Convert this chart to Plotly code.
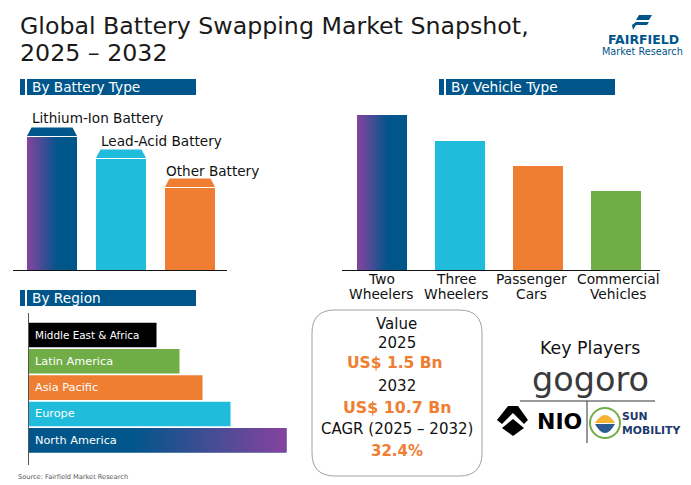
import plotly.graph_objects as go

W, H = 691, 485
FONT = 'DejaVu Sans'
BLUE = '#00568a'
PURPLE = '#86439e'
CYAN = '#1fbcdb'
ORANGE = '#ef7d32'
GREEN = '#70ad47'

# no value axis in the picture, values are relative bar lengths read off it
battery_types = ['Lithium-Ion Battery', 'Lead-Acid Battery', 'Other Battery']
battery_values = [133, 111, 82]
battery_colors = [BLUE, CYAN, ORANGE]

vehicle_types = ['Two Wheelers', 'Three Wheelers', 'Passenger Cars', 'Commercial Vehicles']
vehicle_values = [155, 129, 104, 79]
vehicle_colors = [BLUE, CYAN, ORANGE, GREEN]

regions = ['Middle East & Africa', 'Latin America', 'Asia Pacific', 'Europe', 'North America']
region_values = [128, 151, 174, 202, 258]
region_colors = ['#000000', GREEN, ORANGE, CYAN, BLUE]


def xp(px):
    return px / W


def yp(py):
    return 1 - py / H


def label(text, x, y, size=13, color='#111111', anchor='center', bold=False, font=FONT):
    # annotations carry a little padding, pull left aligned ones back
    if anchor == 'left':
        x -= 2
    fig.add_annotation(text=f'<b>{text}</b>' if bold else text, x=xp(x), y=yp(y),
                       xref='paper', yref='paper', xanchor=anchor, yanchor='middle',
                       showarrow=False, font=dict(family=font, size=size, color=color))


def rect(x0, y0, x1, y1, color):
    fig.add_shape(type='rect', xref='paper', yref='paper', x0=xp(x0), x1=xp(x1),
                  y0=yp(y0), y1=yp(y1), fillcolor=color, line_width=0, layer='below')


def poly(points, color):
    path = 'M' + ' L'.join(f'{xp(a):.4f},{yp(b):.4f}' for a, b in points) + ' Z'
    fig.add_shape(type='path', path=path, xref='paper', yref='paper', fillcolor=color, line_width=0)


def line(x0, y0, x1, y1, color='#333333', width=1):
    fig.add_shape(type='line', xref='paper', yref='paper', x0=xp(x0), x1=xp(x1),
                  y0=yp(y0), y1=yp(y1), line=dict(color=color, width=width))


fig = go.Figure()

# battery type
bat_w = 50 / 69
fig.add_trace(go.Bar(x=list(range(3)), y=battery_values, width=bat_w,
                     marker=dict(color=battery_colors, line_width=0),
                     xaxis='x', yaxis='y', hoverinfo='skip'))
fig.add_trace(go.Scatter(x=[-bat_w / 2, bat_w / 2, bat_w / 2, -bat_w / 2],
                         y=[0, 0, battery_values[0], battery_values[0]],
                         fill='toself', mode='none', xaxis='x', yaxis='y', hoverinfo='skip',
                         fillgradient=dict(type='horizontal', colorscale=[[0, PURPLE], [0.62, BLUE], [1, BLUE]])))
inset = 4.5 / 69
for i, v in enumerate(battery_values):
    fig.add_trace(go.Scatter(x=[i - bat_w / 2, i + bat_w / 2, i + bat_w / 2 - inset, i - bat_w / 2 + inset],
                             y=[v + 1, v + 1, v + 9.5, v + 9.5], fill='toself', mode='none',
                             fillcolor=battery_colors[i], xaxis='x', yaxis='y', hoverinfo='skip'))

# vehicle type
veh_w = 50 / 78
fig.add_trace(go.Bar(x=list(range(4)), y=vehicle_values, width=veh_w,
                     marker=dict(color=vehicle_colors, line_width=0),
                     xaxis='x2', yaxis='y2', hoverinfo='skip'))
fig.add_trace(go.Scatter(x=[-veh_w / 2, veh_w / 2, veh_w / 2, -veh_w / 2],
                         y=[0, 0, vehicle_values[0], vehicle_values[0]],
                         fill='toself', mode='none', xaxis='x2', yaxis='y2', hoverinfo='skip',
                         fillgradient=dict(type='horizontal', colorscale=[[0, PURPLE], [0.62, BLUE], [1, BLUE]])))

# region
reg_w = 24.5 / 26.3
fig.add_trace(go.Bar(y=list(range(5)), x=region_values, width=reg_w, orientation='h',
                     marker=dict(color=region_colors, line_width=0),
                     xaxis='x3', yaxis='y3', hoverinfo='skip'))
fig.add_trace(go.Scatter(x=[0, region_values[4], region_values[4], 0],
                         y=[4 - reg_w / 2, 4 - reg_w / 2, 4 + reg_w / 2, 4 + reg_w / 2],
                         fill='toself', mode='none', xaxis='x3', yaxis='y3', hoverinfo='skip',
                         fillgradient=dict(type='horizontal', colorscale=[[0, BLUE], [0.4, BLUE], [1, PURPLE]])))
for i, r in enumerate(regions):
    fig.add_annotation(text=r, x=0, y=i, xref='x3', yref='y3', xanchor='left', xshift=4.5, showarrow=False,
                       font=dict(family=FONT, size=10.4 if len(r) > 15 else 11.3, color='white'))

# header bands
for x_off, y0, txt in [(0, 79, 'By Battery Type'), (419, 79, 'By Vehicle Type'), (0, 290, 'By Region')]:
    rect(20 + x_off, y0, 25 + x_off, y0 + 16, BLUE)
    rect(27 + x_off, y0, 196 + x_off, y0 + 16, BLUE)
    label(txt, 32 + x_off, y0 + 7.5, size=13.7, color='white', anchor='left')

# title and source
label('Global Battery Swapping Market Snapshot,', 20, 25.5, size=23.7, color='#1a1a1a', anchor='left')
label('2025 – 2032', 20, 52.5, size=23.7, color='#1a1a1a', anchor='left')
label('Source: Fairfield Market Research', 18, 477, size=6.6, color='#555555', anchor='left')

# battery labels
label(battery_types[0], 97, 118, size=13.6)
label(battery_types[1], 161, 141, size=13.6)
label(battery_types[2], 212, 171, size=13.6)

# vehicle labels, two tight lines each
for name, cx in zip(vehicle_types, [381, 456, 531, 618]):
    first, second = name.split(' ')
    label(first, cx, 279, size=13.8)
    label(second, cx, 294, size=13.8)

# value box
r = 23
fig.add_shape(type='path', xref='paper', yref='paper', line=dict(color='#a0a0a0', width=1),
              path=(f'M{xp(312 + r)},{yp(310)} L{xp(482 - r)},{yp(310)} '
                    f'Q{xp(482)},{yp(310)} {xp(482)},{yp(310 + r)} L{xp(482)},{yp(476 - r)} '
                    f'Q{xp(482)},{yp(476)} {xp(482 - r)},{yp(476)} L{xp(312 + r)},{yp(476)} '
                    f'Q{xp(312)},{yp(476)} {xp(312)},{yp(476 - r)} L{xp(312)},{yp(310 + r)} '
                    f'Q{xp(312)},{yp(310)} {xp(312 + r)},{yp(310)} Z'))
label('Value', 397, 324, size=15)
label('2025', 397, 343, size=15)
label('US$ 1.5 Bn', 395, 363, size=15.5, color=ORANGE, bold=True)
label('2032', 397, 386, size=15)
label('US$ 10.7 Bn', 397, 407, size=15.8, color=ORANGE, bold=True)
label('CAGR (2025 – 2032)', 397, 429, size=15)
label('32.4%', 397, 451, size=15, color=ORANGE, bold=True)

# fairfield logo
poly([(639, 15), (652, 15), (649, 20), (636, 20)], BLUE)
poly([(636, 22), (649, 22), (647, 25), (636, 25), (633, 30), (632, 25)], BLUE)
label('FAIRFIELD', 643, 39, size=12.5, color=BLUE, bold=True)
label('Market Research', 642, 52, size=9.7, color=BLUE)

# key players
label('Key Players', 590, 348, size=17.4)
label('gogoro', 590, 379, size=33.5, color='#3a3a3c')
line(520, 401, 655, 401)
line(587, 401, 587, 443)
poly([(508, 406), (518, 406), (528, 420), (524, 424), (513, 413), (502, 424), (497, 420)], '#000000')
poly([(513, 419), (524, 428), (513, 436), (502, 428)], '#000000')
label('NIO', 559, 421, size=22, color='#000000', bold=True)
fig.add_shape(type='circle', xref='paper', yref='paper', x0=xp(590), x1=xp(620), y0=yp(408), y1=yp(438),
              line=dict(color=GREEN, width=2), fillcolor='white')
fig.add_shape(type='path', xref='paper', yref='paper', line_width=0, fillcolor='#f5b335',
              path=f'M{xp(595)},{yp(423)} Q{xp(605)},{yp(407)} {xp(615)},{yp(423)} Z')
fig.add_shape(type='path', xref='paper', yref='paper', line_width=0, fillcolor='#2c5a92',
              path=f'M{xp(595)},{yp(424)} L{xp(615)},{yp(424)} Q{xp(605)},{yp(442)} {xp(595)},{yp(424)} Z')
label('SUN', 622, 416.5, size=10.8, color='#1d3a6e', anchor='left', bold=True)
label('MOBILITY', 622, 430.5, size=10.8, color='#1d3a6e', anchor='left', bold=True)

hidden = dict(visible=False, fixedrange=True)
fig.update_layout(
    width=W, height=H, margin=dict(l=0, r=0, t=0, b=0), showlegend=False,
    paper_bgcolor='white', plot_bgcolor='white', barmode='overlay',
    xaxis=dict(domain=[xp(13), xp(227)], range=[-0.565, 2.536], showticklabels=False, ticks='',
               showgrid=False, zeroline=False, showline=True, linecolor='#111111', linewidth=1),
    yaxis=dict(domain=[yp(270), yp(100)], range=[0, 170], **hidden),
    xaxis2=dict(domain=[xp(342), xp(660)], range=[-0.513, 3.564], showticklabels=False, ticks='', anchor='y2',
                showgrid=False, zeroline=False, showline=True, linecolor='#111111', linewidth=1),
    yaxis2=dict(domain=[yp(270), yp(100)], range=[0, 170], anchor='x2', **hidden),
    xaxis3=dict(domain=[xp(28.5), xp(300)], range=[0, 271.5], anchor='y3', **hidden),
    yaxis3=dict(domain=[yp(465), yp(313)], range=[4.94, -0.836], showticklabels=False, ticks='', anchor='x3',
                showgrid=False, zeroline=False, showline=True, linecolor='#555555', linewidth=1),
)

fig.write_html("out.html", config={'displayModeBar': False},
               post_script="document.body.style.margin='0';")
